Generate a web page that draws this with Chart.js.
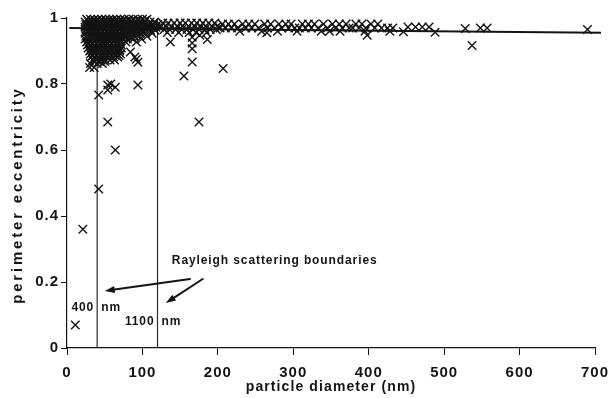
<!DOCTYPE html>
<html>
<head>
<meta charset="utf-8">
<script src="https://cdn.jsdelivr.net/npm/chart.js@4"></script>
<style>
  html, body { margin: 0; padding: 0; background: #fff; }
  #wrap { width: 611px; height: 398px; position: relative; }
</style>
</head>
<body>
<div id="wrap"><canvas id="eccChart"></canvas></div>
<script>
// perimeter eccentricity vs particle diameter (nm)
// rows: [eccentricity, [diameters...]]
const blobRows = [
  [0.996, [26, 31, 36, 41, 46, 51, 56, 61, 66, 71, 76, 82, 88, 94, 100, 106]],
  [0.992, [28, 33, 38, 43, 48, 53, 58, 63, 68, 73, 79, 85, 91, 97, 103]],
  [0.988, [24, 29, 34, 38, 44, 49, 54, 59, 63, 69, 74, 79, 85, 91, 97, 103, 110, 116]],
  [0.980, [25, 30, 35, 40, 45, 50, 55, 60, 65, 70, 75, 81, 86, 92, 98, 104, 109, 114, 120]],
  [0.976, [27, 32, 37, 42, 47, 52, 57, 62, 67, 72, 78, 83, 89, 95, 101, 107, 115]],
  [0.972, [24, 28, 33, 38, 43, 48, 53, 58, 63, 68, 73, 78, 84, 89, 95, 101, 107, 112, 118, 123]],
  [0.963, [25, 30, 35, 40, 45, 50, 55, 60, 65, 70, 76, 81, 87, 93, 99, 105, 111, 117]],
  [0.958, [27, 32, 37, 42, 47, 52, 57, 62, 67, 72, 77, 83, 89, 95, 101]],
  [0.954, [24, 29, 34, 39, 44, 49, 54, 59, 64, 69, 74, 79, 85, 91, 97, 104, 113]],
  [0.945, [25, 30, 35, 40, 46, 51, 56, 61, 66, 71, 77, 83, 89, 96, 106]],
  [0.940, [27, 32, 37, 42, 47, 52, 57, 62, 67, 72, 78, 85]],
  [0.936, [24, 29, 34, 39, 44, 49, 54, 59, 64, 69, 74, 80, 88, 99]],
  [0.927, [26, 31, 36, 41, 46, 51, 56, 61, 66, 71, 78, 92]],
  [0.922, [29, 34, 39, 44, 49, 54, 59, 64, 69]],
  [0.918, [27, 32, 37, 42, 47, 52, 57, 62, 67, 72]],
  [0.909, [28, 33, 38, 43, 48, 53, 58, 63, 68, 72]],
  [0.904, [31, 36, 41, 46, 51, 56, 61, 66, 70]],
  [0.900, [30, 35, 40, 45, 50, 55, 60, 65, 70]],
  [0.891, [31, 36, 41, 46, 51, 56, 61, 66, 71]],
  [0.886, [34, 39, 44, 49, 54, 59, 64, 69]],
  [0.882, [32, 37, 42, 47, 52, 57, 62, 67]],
  [0.873, [34, 39, 45, 51, 57, 63]],
  [0.868, [36, 43, 50]],
  [0.862, [31, 40, 47]],
  [0.850, [30, 36]]
];

const bandRows = [
  [0.985, [127, 134, 142, 150, 157, 165, 172, 180, 188, 196]],
  [0.975, [125, 131, 138, 146, 153, 161, 169, 177, 184, 192, 199]],
  [0.965, [129, 136, 144, 152, 159, 167, 175, 183, 190, 198]],
  [0.956, [133, 148, 162, 171, 185]],
  [0.982, [206, 214, 222, 233, 241, 249, 262, 270, 281, 290, 297, 312, 320, 328, 340, 352, 361, 370, 383, 391, 403, 412]],
  [0.970, [203, 210, 218, 226, 237, 245, 254, 266, 275, 285, 294, 302, 308, 316, 324, 333, 345, 356, 365, 374, 379, 387, 396, 408, 417, 425, 432]],
  [0.960, [229, 258, 279, 305, 337, 348, 362, 395, 428]],
  [0.973, [452, 462, 471, 480]]
];

const strayPoints = [
  [11, 0.07], [21, 0.36], [42, 0.482], [54, 0.685], [64, 0.60],
  [42, 0.767], [54, 0.782], [54, 0.797], [58, 0.80], [64, 0.79], [94, 0.797],
  [84, 0.897], [90, 0.882], [94, 0.866], [92, 0.875],
  [137, 0.927], [166, 0.942], [166, 0.924], [166, 0.907], [166, 0.867],
  [155, 0.824], [176, 0.948], [186, 0.935], [175, 0.685], [207, 0.847],
  [265, 0.955], [398, 0.948], [446, 0.958], [488, 0.957],
  [528, 0.968], [537, 0.917], [548, 0.97], [557, 0.97], [690, 0.965]
];

const fitLine = [[3, 0.970], [708, 0.955]];
const boundaryDiameters = [40, 120];

const xTickValues = [0, 100, 200, 300, 400, 500, 600, 700];
const yTickValues = [0, 0.2, 0.4, 0.6, 0.8, 1];
const yTickLabels = ["0", "0.2", "0.4", "0.6", "0.8", "1"];

const ink = "#141414";
const fontFam = "'Liberation Sans', Arial, Helvetica, sans-serif";

function rowsToPoints(rows) {
  const out = [];
  rows.forEach(([ecc, diams]) => diams.forEach((d) => out.push({ x: d, y: ecc })));
  return out;
}

const scatterData = rowsToPoints(blobRows)
  .concat(rowsToPoints(bandRows))
  .concat(strayPoints.map(([d, e]) => ({ x: d, y: e })));

const boundarySets = boundaryDiameters.map((d) => ({
  type: "line",
  data: [{ x: d, y: 0 }, { x: d, y: 1 }],
  borderColor: "#2a2a2a",
  borderWidth: 1.2,
  pointRadius: 0,
  clip: false,
}));

// labels and arrows, in data units
const notes = {
  title: { text: "Rayleigh scattering boundaries", at: [139, 0.264] },
  left: { num: "400", unit: "nm", at: [40, 0.121] },
  right: { num: "1100", unit: "nm", at: [120, 0.079] },
  arrows: [
    [[163, 0.209], [50, 0.173]],
    [[180, 0.209], [131, 0.136]],
  ],
};

const textPlugin = {
  id: "scanText",
  beforeDraw(chart) {
    chart.ctx.letterSpacing = "1px";
  },
  afterDraw(chart) {
    const ctx = chart.ctx;
    const xs = chart.scales.x, ys = chart.scales.y;
    const px = (v) => xs.getPixelForValue(v);
    const py = (v) => ys.getPixelForValue(v);
    const area = chart.chartArea;
    ctx.save();
    ctx.fillStyle = ink;
    ctx.strokeStyle = ink;

    // axis titles
    ctx.font = "bold 14px " + fontFam;
    ctx.letterSpacing = "1.1px";
    ctx.textAlign = "center";
    ctx.textBaseline = "middle";
    ctx.fillText("particle diameter (nm)", (area.left + area.right) / 2, 387);

    ctx.save();
    ctx.translate(18, 195);
    ctx.rotate(-Math.PI / 2);
    ctx.font = "bold 15px " + fontFam;
    ctx.letterSpacing = "2.8px";
    ctx.fillText("perimeter eccentricity", 0, 0);
    ctx.restore();

    // annotation text
    ctx.font = "bold 12px " + fontFam;
    ctx.letterSpacing = "0.9px";
    ctx.textAlign = "left";
    ctx.fillText(notes.title.text, px(notes.title.at[0]), py(notes.title.at[1]));

    [notes.left, notes.right].forEach((n) => {
      const x = px(n.at[0]), y = py(n.at[1]);
      ctx.textAlign = "right";
      ctx.fillText(n.num, x - 3, y);
      ctx.textAlign = "left";
      ctx.fillText(n.unit, x + 4, y);
    });

    // arrows
    ctx.lineWidth = 2;
    ctx.lineCap = "round";
    notes.arrows.forEach(([from, to]) => {
      const x0 = px(from[0]), y0 = py(from[1]);
      const x1 = px(to[0]), y1 = py(to[1]);
      const ang = Math.atan2(y1 - y0, x1 - x0);
      const headLen = 10, headW = 3.5;
      const bx = x1 - headLen * Math.cos(ang), by = y1 - headLen * Math.sin(ang);
      ctx.beginPath();
      ctx.moveTo(x0, y0);
      ctx.lineTo(bx, by);
      ctx.stroke();
      ctx.beginPath();
      ctx.moveTo(x1, y1);
      ctx.lineTo(bx + headW * Math.sin(ang), by - headW * Math.cos(ang));
      ctx.lineTo(bx - headW * Math.sin(ang), by + headW * Math.cos(ang));
      ctx.closePath();
      ctx.fill();
    });
    ctx.restore();
  },
};

const chartCtx = document.getElementById("eccChart").getContext("2d");
const eccChart = new Chart(chartCtx, {
  type: "scatter",
  data: {
    datasets: [
      {
        label: "particles",
        data: scatterData,
        pointStyle: "crossRot",
        pointRadius: 6,
        borderColor: ink,
        backgroundColor: ink,
        pointBorderWidth: 1.4,
        clip: false,
      },
      {
        type: "line",
        label: "fit",
        data: fitLine.map(([d, e]) => ({ x: d, y: e })),
        borderColor: ink,
        borderWidth: 2,
        pointRadius: 0,
        clip: false,
      },
      ...boundarySets,
    ],
  },
  options: {
    responsive: true,
    maintainAspectRatio: false,
    animation: false,
    events: [],
    layout: { padding: { top: 18, right: 16, left: 0, bottom: 0 } },
    plugins: {
      legend: { display: false },
      tooltip: { enabled: false },
    },
    scales: {
      x: {
        type: "linear",
        min: 0,
        max: 700,
        afterBuildTicks: (scale) => {
          scale.ticks = xTickValues.map((v) => ({ value: v }));
        },
        afterFit: (scale) => {
          scale.height = 50;
          scale.paddingLeft = 0;
          scale.paddingRight = 0;
        },
        grid: { drawOnChartArea: false, drawTicks: true, tickLength: 7, color: ink },
        border: { display: true, color: ink, width: 1.2 },
        ticks: {
          color: ink,
          padding: 9,
          maxRotation: 0,
          font: { family: fontFam, size: 15, weight: "bold" },
        },
      },
      y: {
        type: "linear",
        min: 0,
        max: 1,
        afterBuildTicks: (scale) => {
          scale.ticks = yTickValues.map((v) => ({ value: v }));
        },
        afterFit: (scale) => {
          scale.width = 67;
          scale.paddingTop = 0;
          scale.paddingBottom = 0;
        },
        grid: { drawOnChartArea: false, drawTicks: true, tickLength: 6, color: ink },
        border: { display: true, color: ink, width: 1.2 },
        ticks: {
          color: ink,
          padding: 2,
          font: { family: fontFam, size: 15, weight: "bold" },
          callback: (value, index) => yTickLabels[index],
        },
      },
    },
  },
  plugins: [textPlugin],
});
</script>
</body>
</html>
